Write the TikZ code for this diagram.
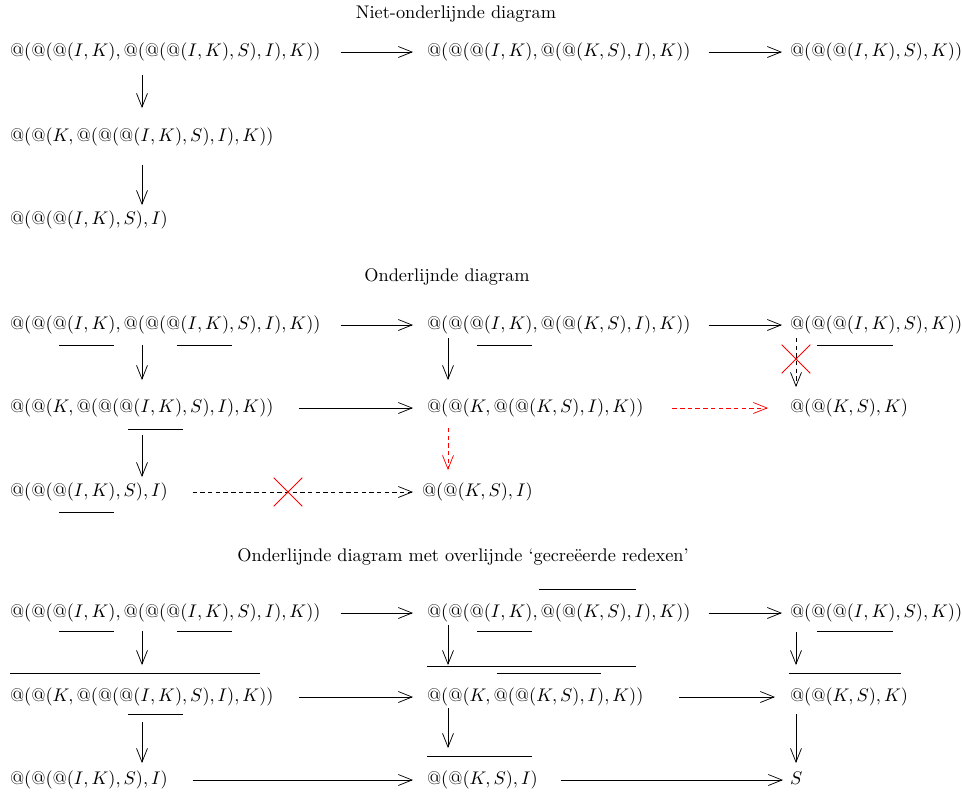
\documentclass[tikz,border=0pt]{standalone}
\usetikzlibrary{arrows.meta,shapes.misc}
\begin{document}
\begin{tikzpicture}[x=0.547pt,y=-0.547pt,
  tm/.style={anchor=west,inner sep=0pt,outer sep=0pt},
  ttl/.style={inner sep=0pt},
  arr/.style={-{Straight Barb[length=7.5pt,width=6pt]},line width=0.4pt},
  dsh/.style={dash pattern=on 2.4pt off 1.8pt},
  sa/.style={shorten <=#1*0.547pt},
  sb/.style={shorten >=#1*0.547pt},
  crossx/.style={cross out,draw=red,minimum size=15.3pt,inner sep=0pt,line width=0.4pt},
  bar/.style={line width=0.4pt}]
\useasboundingbox (0,0) rectangle (962,793);
\coordinate (c1) at (142,0);
\coordinate (c2) at (448,0);
\coordinate (c3) at (796,0);

% ---------- Section 1 ----------
\node[ttl] (t1) at (456,14) {Niet-onderlijnde diagram};
\node[tm] (s1a) at (10,52) {$@(@(@(I,K),@(@(@(I,K),S),I),K))$};
\node[tm] (s1b) at (427,52) {$@(@(@(I,K),@(@(K,S),I),K))$};
\node[tm] (s1c) at (790,52) {$@(@(@(I,K),S),K))$};
\node[tm] (s1d) at (10,137) {$@(@(K,@(@(@(I,K),S),I),K))$};
\node[tm] (s1e) at (10,220) {$@(@(@(I,K),S),I)$};
\draw[arr,sa=20,sb=14] (s1a) -- (s1b);
\draw[arr,sa=18,sb=8] (s1b) -- (s1c);
\draw[arr,sa=13.8,sb=19.8] (s1a.south -| c1) -- (s1d.north -| c1);
\draw[arr,sa=18.8,sb=5.8] (s1d.south -| c1) -- (s1e.north -| c1);

% ---------- Section 2 ----------
\node[ttl] (t2) at (447,277) {Onderlijnde diagram};
\node[tm] (s2a) at (10,325) {$@(@(@(I,K),@(@(@(I,K),S),I),K))$};
\node[tm] (s2b) at (427,325) {$@(@(@(I,K),@(@(K,S),I),K))$};
\node[tm] (s2c) at (790,325) {$@(@(@(I,K),S),K))$};
\node[tm] (s2d) at (10,408) {$@(@(K,@(@(@(I,K),S),I),K))$};
\node[tm] (s2e) at (427,408) {$@(@(K,@(@(K,S),I),K))$};
\node[tm] (s2f) at (790,408) {$@(@(K,S),K)$};
\node[tm] (s2g) at (10,492) {$@(@(@(I,K),S),I)$};
\node[tm] (s2h) at (422,492) {$@(@(K,S),I)$};
\draw[bar] (59,345) -- (114,345);
\draw[bar] (177,345) -- (232,345);
\draw[bar] (477,345) -- (532,345);
\draw[bar] (817,345) -- (893,345);
\draw[bar] (128,429) -- (183,429);
\draw[bar] (59,512) -- (114,512);
\draw[arr,sa=20,sb=14] (s2a) -- (s2b);
\draw[arr,sa=18,sb=8] (s2b) -- (s2c);
\draw[arr,sa=25,sb=14] (s2d) -- (s2e);
\draw[arr,dsh,red,sa=29,sb=22] (s2e) -- (s2f);
\draw[arr,dsh,sa=25,sb=9] (s2g) -- (s2h);
\draw[arr,sa=10.8,sb=18.8] (s2a.south -| c1) -- (s2d.north -| c1);
\draw[arr,sa=17.8,sb=5.8] (s2d.south -| c1) -- (s2g.north -| c1);
\draw[arr,sa=3.8,sb=18.8] (s2b.south -| c2) -- (s2e.north -| c2);
\draw[arr,dsh,red,sa=10.8,sb=12.8] (s2e.south -| c2) -- (s2h.north -| c2);
\draw[arr,dsh,sa=3.8,sb=11.8] (s2c.south -| c3) -- (s2f.north -| c3);
\node[crossx] (x1) at (288,492) {};
\node[crossx] (x2) at (796,359) {};

% ---------- Section 3 ----------
\node[ttl] (t3) at (463,557) {Onderlijnde diagram met overlijnde `gecre\"eerde redexen'};
\node[tm] (s3a) at (10,613) {$@(@(@(I,K),@(@(@(I,K),S),I),K))$};
\node[tm] (s3b) at (427,613) {$@(@(@(I,K),@(@(K,S),I),K))$};
\node[tm] (s3c) at (790,613) {$@(@(@(I,K),S),K))$};
\node[tm] (s3d) at (10,697) {$@(@(K,@(@(@(I,K),S),I),K))$};
\node[tm] (s3e) at (427,697) {$@(@(K,@(@(K,S),I),K))$};
\node[tm] (s3f) at (790,697) {$@(@(K,S),K)$};
\node[tm] (s3g) at (10,780) {$@(@(@(I,K),S),I)$};
\node[tm] (s3h) at (427,780) {$@(@(K,S),I)$};
\node[tm] (s3i) at (790,780) {$S\vphantom{(}$};
\draw[bar] (59,631) -- (114,631);
\draw[bar] (177,631) -- (232,631);
\draw[bar] (477,631) -- (532,631);
\draw[bar] (817,631) -- (893,631);
\draw[bar] (539,589) -- (636,589);
\draw[bar] (10,673) -- (260,673);
\draw[bar] (427,666) -- (636,666);
\draw[bar] (497,673) -- (601,673);
\draw[bar] (789,673) -- (901,673);
\draw[bar] (128,714) -- (183,714);
\draw[bar] (427,756) -- (532,756);
\draw[arr,sa=20,sb=14] (s3a) -- (s3b);
\draw[arr,sa=18,sb=8] (s3b) -- (s3c);
\draw[arr,sa=25,sb=14] (s3d) -- (s3e);
\draw[arr,sa=36,sb=15] (s3e) -- (s3f);
\draw[arr,sa=25,sb=14] (s3g) -- (s3h);
\draw[arr,sa=23,sb=7] (s3h) -- (s3i);
\draw[arr,sa=8.8,sb=22.8] (s3a.south -| c1) -- (s3d.north -| c1);
\draw[arr,sa=15.8,sb=7.8] (s3d.south -| c1) -- (s3g.north -| c1);
\draw[arr,sa=2.8,sb=22.8] (s3b.south -| c2) -- (s3e.north -| c2);
\draw[arr,sa=1.8,sb=22.8] (s3e.south -| c2) -- (s3h.north -| c2);
\draw[arr,sa=9.8,sb=22.8] (s3c.south -| c3) -- (s3f.north -| c3);
\draw[arr,sa=7.8,sb=7.8] (s3f.south -| c3) -- (s3i.north -| c3);
\end{tikzpicture}
\end{document}
